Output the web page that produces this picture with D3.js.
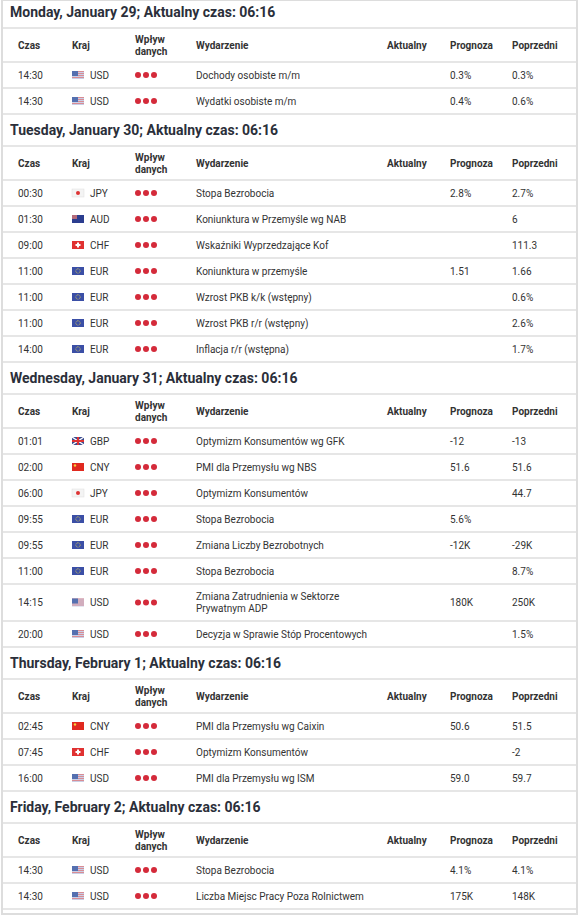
<!DOCTYPE html><html><head><meta charset="utf-8">
<script src="https://cdn.jsdelivr.net/npm/d3@7"></script>
<style>body{margin:0;background:#fff}svg{display:block}</style></head><body>
<script>
const dayTitles=["Monday, January 29; Aktualny czas: 06:16","Tuesday, January 30; Aktualny czas: 06:16","Wednesday, January 31; Aktualny czas: 06:16","Thursday, February 1; Aktualny czas: 06:16","Friday, February 2; Aktualny czas: 06:16"];
const columns=["Czas","Kraj","Wpływ\ndanych","Wydarzenie","Aktualny","Prognoza","Poprzedni"];
const times=[["14:30","14:30"],["00:30","01:30","09:00","11:00","11:00","11:00","14:00"],["01:01","02:00","06:00","09:55","09:55","11:00","14:15","20:00"],["02:45","07:45","16:00"],["14:30","14:30"]];
const currencies=[["USD","USD"],["JPY","AUD","CHF","EUR","EUR","EUR","EUR"],["GBP","CNY","JPY","EUR","EUR","EUR","USD","USD"],["CNY","CHF","USD"],["USD","USD"]];
const events=[["Dochody osobiste m/m","Wydatki osobiste m/m"],["Stopa Bezrobocia","Koniunktura w Przemyśle wg NAB","Wskaźniki Wyprzedzające Kof","Koniunktura w przemyśle","Wzrost PKB k/k (wstępny)","Wzrost PKB r/r (wstępny)","Inflacja r/r (wstępna)"],["Optymizm Konsumentów wg GFK","PMI dla Przemysłu wg NBS","Optymizm Konsumentów","Stopa Bezrobocia","Zmiana Liczby Bezrobotnych","Stopa Bezrobocia","Zmiana Zatrudnienia w Sektorze\nPrywatnym ADP","Decyzja w Sprawie Stóp Procentowych"],["PMI dla Przemysłu wg Caixin","Optymizm Konsumentów","PMI dla Przemysłu wg ISM"],["Stopa Bezrobocia","Liczba Miejsc Pracy Poza Rolnictwem"]];
const forecasts=[["0.3%","0.4%"],["2.8%","","","1.51","","",""],["-12","51.6","","5.6%","-12K","","180K",""],["50.6","","59.0"],["4.1%","175K"]];
const previous=[["0.3%","0.6%"],["2.7%","6","111.3","1.66","0.6%","2.6%","1.7%"],["-13","51.6","44.7","","-29K","8.7%","250K","1.5%"],["51.5","-2","59.7"],["4.1%","148K"]];
const colX=[18,72,135,196,387,450,512];
const W=582,H=919;
const svg=d3.select("body").append("svg").attr("width",W).attr("height",H).style("font-family","Roboto, sans-serif");
const txt="#333",line="#e6e6e6";
function flag(g,c){
  const f=g.append("g");
  if(c==="USD"){f.append("rect").attr("width",12).attr("height",8).attr("fill","#c9cfe6");
    for(let i=0;i<4;i++)f.append("rect").attr("y",i*2).attr("width",12).attr("height",1).attr("fill","#d98c94");
    f.append("rect").attr("width",6).attr("height",5).attr("fill","#5570b0");}
  else if(c==="EUR"){f.append("rect").attr("width",12).attr("height",8).attr("fill","#3b4fa6");f.append("circle").attr("cx",6).attr("cy",4).attr("r",2.2).attr("fill","none").attr("stroke","#e8d44a").attr("stroke-width",0.8).attr("stroke-dasharray","0.8 0.6");}
  else if(c==="JPY"){f.append("rect").attr("width",12).attr("height",8).attr("fill","#f4f4f4").attr("stroke","#ddd").attr("stroke-width",0.5);f.append("circle").attr("cx",6).attr("cy",4).attr("r",2).attr("fill","#d33");}
  else if(c==="AUD"){f.append("rect").attr("width",12).attr("height",8).attr("fill","#2b3d8f");f.append("rect").attr("width",5).attr("height",4).attr("fill","#b46b7a");}
  else if(c==="CHF"){f.append("rect").attr("width",12).attr("height",8).attr("fill","#e03131");f.append("rect").attr("x",5).attr("y",1.5).attr("width",2).attr("height",5).attr("fill","#fff");f.append("rect").attr("x",3.5).attr("y",3).attr("width",5).attr("height",2).attr("fill","#fff");}
  else if(c==="GBP"){f.append("rect").attr("width",12).attr("height",8).attr("fill","#3b4b8f");f.append("path").attr("d","M0,0L12,8M12,0L0,8").attr("stroke","#fff").attr("stroke-width",1.5);f.append("rect").attr("x",5).attr("width",2).attr("height",8).attr("fill","#d33");f.append("rect").attr("y",3).attr("width",12).attr("height",2).attr("fill","#d33");}
  else if(c==="CNY"){f.append("rect").attr("width",12).attr("height",8).attr("fill","#e0291f");f.append("circle").attr("cx",3).attr("cy",2.5).attr("r",1.2).attr("fill","#f5d33a");}
  return f;
}
// Layout
const TITLE=32,HEAD=34,ROW=26,ROW2=37;
let y=-4;
svg.append("rect").attr("x",2).attr("y",0).attr("width",575).attr("height",914).attr("fill","#fff").attr("stroke","#ddd").attr("stroke-width",2);
dayTitles.forEach((t,d)=>{
  const g=svg.append("g");
  g.append("text").attr("x",10).attr("y",y+TITLE/2+5).attr("font-size",14).attr("font-weight","bold").attr("fill","#2b2f3a").text(t);
  y+=TITLE;
  g.append("line").attr("x1",3).attr("x2",576).attr("y1",y).attr("y2",y).attr("stroke",line).attr("stroke-width",2);
  columns.forEach((c,i)=>{
    const parts=c.split("\n");
    const tx=g.append("text").attr("x",colX[i]).attr("font-size",10).attr("font-weight","bold").attr("fill",txt);
    parts.forEach((p,k)=>tx.append("tspan").attr("x",colX[i]).attr("y",y+HEAD/2+4+(k-(parts.length-1)/2)*12).text(p));
  });
  y+=HEAD;
  g.append("line").attr("x1",3).attr("x2",576).attr("y1",y).attr("y2",y).attr("stroke",line).attr("stroke-width",2);
  times[d].forEach((tm,r)=>{
    const ev=events[d][r].split("\n");
    const h=ev.length>1?ROW2:ROW;
    const cy=y+h/2;
    const rg=g.append("g");
    rg.append("text").attr("x",colX[0]).attr("y",cy+3.5).attr("font-size",10).attr("fill",txt).text(tm);
    flag(rg,currencies[d][r]).attr("transform",`translate(${colX[1]},${cy-4})`);
    rg.append("text").attr("x",colX[1]+18).attr("y",cy+3.5).attr("font-size",10).attr("fill",txt).text(currencies[d][r]);
    [0,1,2].forEach(k=>rg.append("circle").attr("cx",colX[2]+3+k*8).attr("cy",cy).attr("r",3).attr("fill","#d42a3a"));
    const et=rg.append("text").attr("font-size",10).attr("fill",txt);
    ev.forEach((p,k)=>et.append("tspan").attr("x",colX[3]).attr("y",cy+3.5+(k-(ev.length-1)/2)*12).text(p));
    rg.append("text").attr("x",colX[5]).attr("y",cy+3.5).attr("font-size",10).attr("fill",txt).text(forecasts[d][r]);
    rg.append("text").attr("x",colX[6]).attr("y",cy+3.5).attr("font-size",10).attr("fill",txt).text(previous[d][r]);
    y+=h;
    g.append("line").attr("x1",3).attr("x2",576).attr("y1",y).attr("y2",y).attr("stroke",line).attr("stroke-width",2);
  });
});
</script></body></html>
